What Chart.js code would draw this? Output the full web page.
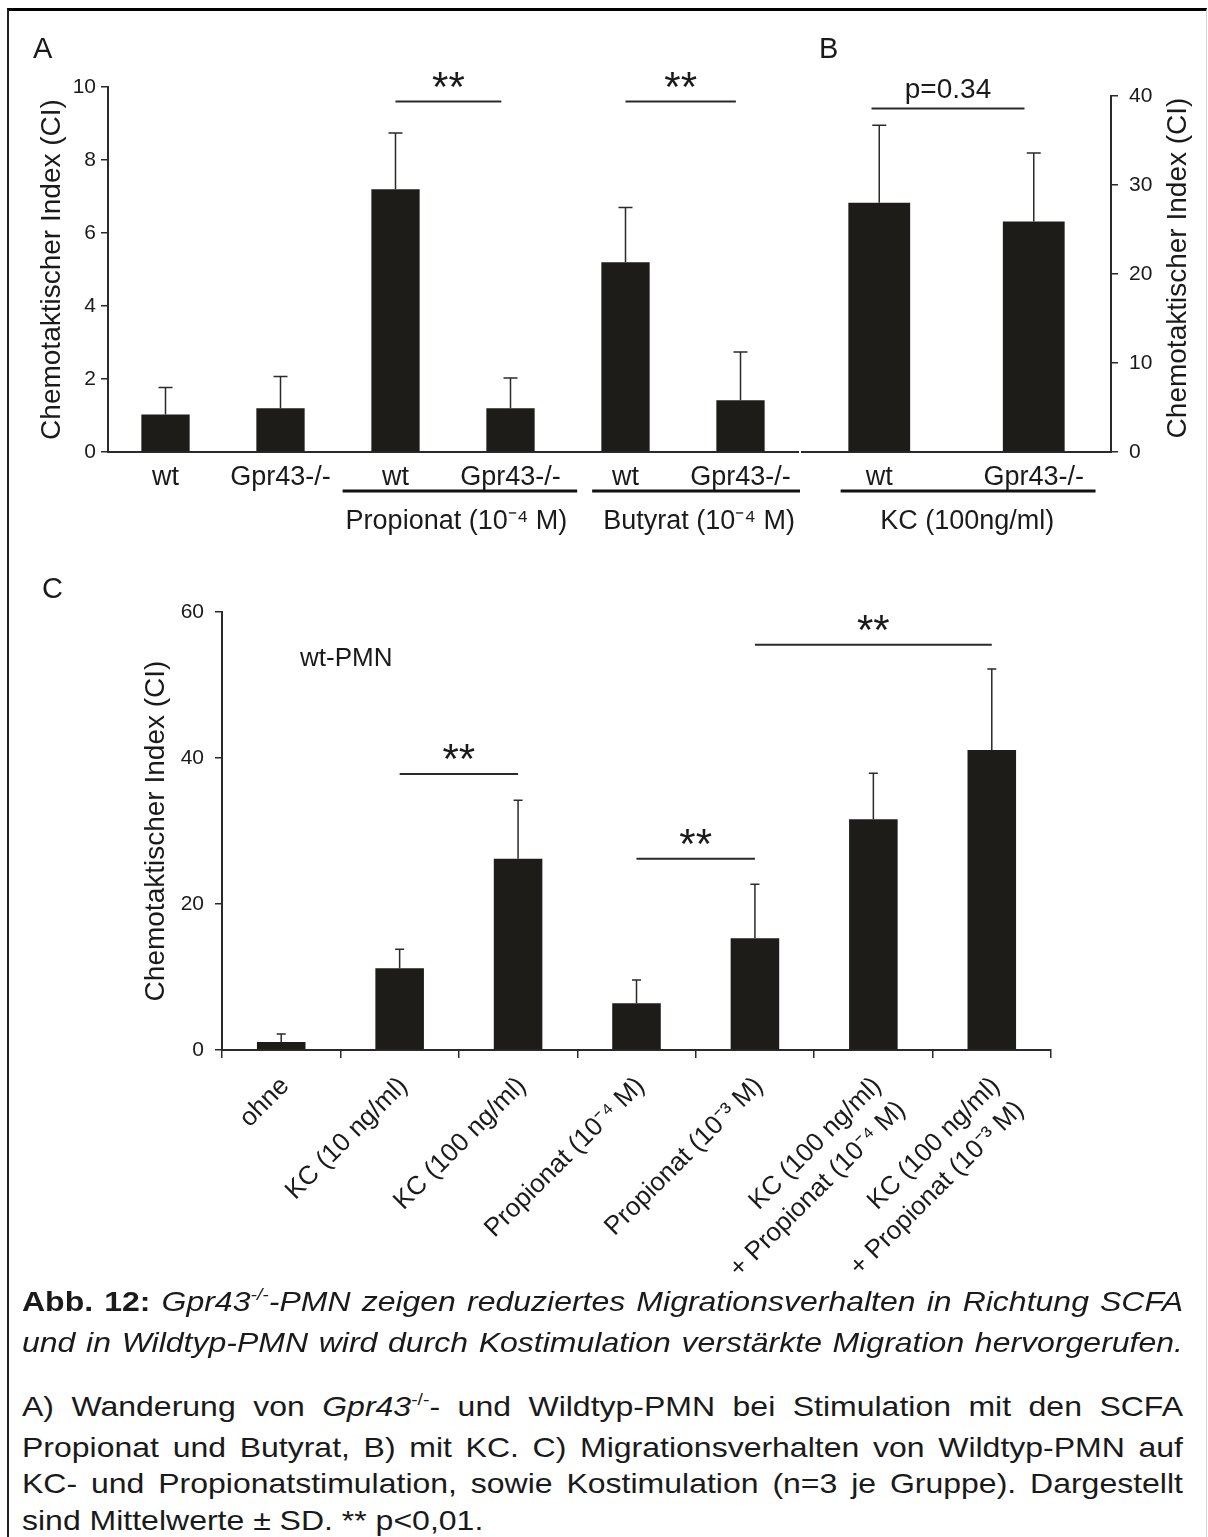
<!DOCTYPE html>
<html>
<head>
<meta charset="utf-8">
<script src="https://cdn.jsdelivr.net/npm/chart.js@4.4.1/dist/chart.umd.min.js"></script>
<style>
  body { margin: 0; background: #fff; width: 1208px; height: 1537px; overflow: hidden; position: relative;
         font-family: 'Liberation Sans', Arial, Helvetica, sans-serif; color: #1a1a1a; }
  #frame { position: absolute; left: 7px; top: 8px; width: 1197px; height: 1560px;
           border-left: 2px solid #222; border-top: 3px solid #000; border-right: 1px solid #d4d4d4; }
  canvas { position: absolute; }
  .panel { position: absolute; font-size: 29px; line-height: 1; }
  #cap { position: absolute; left: 22px; width: 1016px; transform: scaleX(1.1427); transform-origin: 0 0;
         font-size: 28px; line-height: 37px; }
  .just { text-align: justify; text-align-last: justify; }
  .sup { font-size: 17px; position: relative; top: -11px; }
</style>
</head>
<body>
<div id="frame"></div>

<canvas id="chartA" width="800" height="560" style="left:0;top:0"></canvas>
<canvas id="chartB" width="418" height="560" style="left:790px;top:0"></canvas>
<canvas id="chartC" width="1208" height="760" style="left:0;top:560px"></canvas>

<div class="panel" style="left:33px;top:34px">A</div>
<div class="panel" style="left:819px;top:34px">B</div>
<div class="panel" style="left:42px;top:574px">C</div>
<div class="panel" style="left:300px;top:644px;font-size:26px">wt-PMN</div>

<div id="cap" style="top:1283px" class="just"><b>Abb. 12:</b> <i>Gpr43<span class="sup">-/-</span>-PMN zeigen reduziertes Migrationsverhalten in Richtung SCFA<br>und in Wildtyp-PMN wird durch Kostimulation verstärkte Migration hervorgerufen.</i></div>
<div id="cap2" style="position:absolute;left:22px;top:1389px;width:1016px;transform:scaleX(1.1427);transform-origin:0 0;font-size:28px;line-height:36.7px">
  <div class="just">A) Wanderung von <i>Gpr43</i><span class="sup">-/-</span>- und Wildtyp-PMN bei Stimulation mit den SCFA<br>Propionat und Butyrat, B) mit KC. C) Migrationsverhalten von Wildtyp-PMN auf<br>KC- und Propionatstimulation, sowie Kostimulation (n=3 je Gruppe). Dargestellt</div>
  <div>sind Mittelwerte ± SD. ** p&lt;0,01.</div>
</div>

<script>
// panel A: Propionat / Butyrat
const catsA = ['wt', 'Gpr43-/-', 'wt', 'Gpr43-/-', 'wt', 'Gpr43-/-'];
const meanA = [1.03, 1.2, 7.2, 1.2, 5.2, 1.42];
const sdA = [0.74, 0.87, 1.54, 0.83, 1.5, 1.32];
const ticksA = [0, 2, 4, 6, 8, 10];
const groupsA = [
  { text: 'Propionat (10⁻⁴ M)', from: 1.54, to: 3.58, mid: 2.53 },
  { text: 'Butyrat (10⁻⁴ M)', from: 3.71, to: 5.54, mid: 4.64 }
];
const sigA = [
  { text: '**', from: 2, to: 2.92, y: 9.6 },
  { text: '**', from: 4, to: 4.96, y: 9.6 }
];

// panel B: KC
const catsB = ['wt', 'Gpr43-/-'];
const meanB = [28.0, 25.9];
const sdB = [8.7, 7.7];
const ticksB = [0, 10, 20, 30, 40];
const groupsB = [{ text: 'KC (100ng/ml)', from: -0.25, to: 1.4, mid: 0.57 }];
const sigB = [{ text: 'p=0.34', from: -0.05, to: 0.94, y: 38.6 }];

// panel C: wt-PMN
const catsC = ['ohne', 'KC (10 ng/ml)', 'KC (100 ng/ml)', 'Propionat (10⁻⁴ M)', 'Propionat (10⁻³ M)',
               ['KC (100 ng/ml)', '+ Propionat (10⁻⁴ M)'], ['KC (100 ng/ml)', '+ Propionat (10⁻³ M)']];
const meanC = [1.1, 11.2, 26.2, 6.4, 15.3, 31.6, 41.1];
const sdC = [1.1, 2.6, 8.0, 3.2, 7.4, 6.3, 11.1];
const ticksC = [0, 20, 40, 60];
const sigC = [
  { text: '**', from: 1, to: 2, y: 37.8 },
  { text: '**', from: 3, to: 4, y: 26.2 },
  { text: '**', from: 4, to: 6, y: 55.5 }
];

const yTitle = 'Chemotaktischer Index (CI)';
const BAR = '#1e1c19', INK = '#2a2a2a', TXT = '#1a1a1a';
const FONT = "'Liberation Sans', Arial, Helvetica, sans-serif";

Chart.defaults.font.family = FONT;
Chart.defaults.color = TXT;

function fixedTicks(values) {
  return function (axis) { axis.ticks = values.map(v => ({ value: v })); };
}

// error bars, significance bars, group underlines and a right-hand title
function extras(cfg) {
  return {
    id: 'extras',
    afterDatasetsDraw(chart) {
      const ctx = chart.ctx, x = chart.scales.x, y = chart.scales.y;
      const vals = chart.data.datasets[0].data;
      ctx.save();
      ctx.strokeStyle = INK;
      ctx.fillStyle = TXT;

      ctx.lineWidth = cfg.errWidth;
      chart.getDatasetMeta(0).data.forEach((bar, i) => {
        const top = y.getPixelForValue(vals[i] + cfg.sd[i]);
        ctx.beginPath();
        ctx.moveTo(bar.x, bar.y);
        ctx.lineTo(bar.x, top);
        ctx.moveTo(bar.x - cfg.cap / 2, top);
        ctx.lineTo(bar.x + cfg.cap / 2, top);
        ctx.stroke();
      });

      ctx.lineWidth = 2;
      ctx.textAlign = 'center';
      ctx.textBaseline = 'alphabetic';
      (cfg.sig || []).forEach(s => {
        const x1 = x.getPixelForValue(s.from), x2 = x.getPixelForValue(s.to);
        const py = y.getPixelForValue(s.y);
        ctx.beginPath();
        ctx.moveTo(x1, py);
        ctx.lineTo(x2, py);
        ctx.stroke();
        const star = s.text === '**';
        ctx.font = (star ? 42 : 28) + 'px ' + FONT;
        ctx.fillText(s.text, (x1 + x2) / 2, py - (star ? 1 : 10));
      });

      const base = chart.chartArea.bottom;
      (cfg.groups || []).forEach(g => {
        ctx.lineWidth = 3;
        ctx.strokeStyle = '#111';
        ctx.beginPath();
        ctx.moveTo(x.getPixelForValue(g.from), base + 39);
        ctx.lineTo(x.getPixelForValue(g.to), base + 39);
        ctx.stroke();
        ctx.font = '27px ' + FONT;
        ctx.textBaseline = 'middle';
        ctx.fillText(g.text, x.getPixelForValue(g.mid), base + 70);
      });

      if (cfg.rightTitle) {
        ctx.font = '28px ' + FONT;
        ctx.textBaseline = 'middle';
        ctx.translate(y.right - 30, (y.top + y.bottom) / 2 - 6);
        ctx.rotate(-Math.PI / 2);
        ctx.fillText(cfg.rightTitle, 0, 0);
      }
      ctx.restore();
    }
  };
}

function yAxis(max, ticks, width, extra) {
  return Object.assign({
    min: 0, max: max,
    afterBuildTicks: fixedTicks(ticks),
    afterFit: a => { a.width = width; },
    grid: { drawOnChartArea: false, drawTicks: true, tickLength: 7, color: INK, lineWidth: 1.5 },
    border: { color: INK, width: 2 },
    ticks: { font: { size: 21 }, padding: 5 }
  }, extra);
}

function xFlat(height) {
  return {
    afterFit: a => { a.height = height; },
    grid: { display: false, drawTicks: false },
    border: { display: true, color: INK, width: 2 },
    ticks: { font: { size: 27 }, padding: 9, maxRotation: 0, autoSkip: false }
  };
}

const common = {
  responsive: false,
  animation: false,
  plugins: { legend: { display: false }, tooltip: { enabled: false } }
};

new Chart('chartA', {
  type: 'bar',
  data: { labels: catsA, datasets: [{ data: meanA, backgroundColor: BAR, categoryPercentage: 1, barPercentage: 0.42 }] },
  options: Object.assign({}, common, {
    layout: { padding: { top: 87, right: 2, left: 0, bottom: 0 } },
    scales: {
      x: xFlat(108),
      y: yAxis(10, ticksA, 108, {
        title: { display: true, text: yTitle, font: { size: 28 }, padding: { top: 35, bottom: 0 } }
      })
    }
  }),
  plugins: [extras({ sd: sdA, cap: 14, errWidth: 1.5, sig: sigA, groups: groupsA })]
});

new Chart('chartB', {
  type: 'bar',
  data: { labels: catsB, datasets: [{ data: meanB, backgroundColor: BAR, categoryPercentage: 1, barPercentage: 0.40 }] },
  options: Object.assign({}, common, {
    layout: { padding: { top: 96, right: 0, left: 12, bottom: 0 } },
    scales: {
      x: xFlat(108),
      y: yAxis(40, ticksB, 97, { position: 'right', ticks: { font: { size: 21 }, padding: 11 } })
    }
  }),
  plugins: [extras({ sd: sdB, cap: 14, errWidth: 1.5, sig: sigB, groups: groupsB, rightTitle: yTitle })]
});

new Chart('chartC', {
  type: 'bar',
  data: { labels: catsC, datasets: [{ data: meanC, backgroundColor: BAR, categoryPercentage: 1, barPercentage: 0.41 }] },
  options: Object.assign({}, common, {
    layout: { padding: { top: 52, right: 157, left: 0, bottom: 0 } },
    scales: {
      x: {
        afterFit: a => { a.height = 270; },
        grid: { display: true, offset: true, drawOnChartArea: false, drawTicks: true, tickLength: 8, color: INK, lineWidth: 1.5 },
        border: { display: true, color: INK, width: 2 },
        ticks: { font: { size: 26, lineHeight: 1.3 }, padding: 12, minRotation: 45, maxRotation: 45, autoSkip: false, labelOffset: 4 }
      },
      y: yAxis(60, ticksC, 222, {
        ticks: { font: { size: 21 }, padding: 11 },
        title: { display: true, text: yTitle, font: { size: 28 }, padding: { top: 139, bottom: 0 } }
      })
    }
  }),
  plugins: [extras({ sd: sdC, cap: 9, errWidth: 1.5, sig: sigC })]
});
</script>
</body>
</html>
